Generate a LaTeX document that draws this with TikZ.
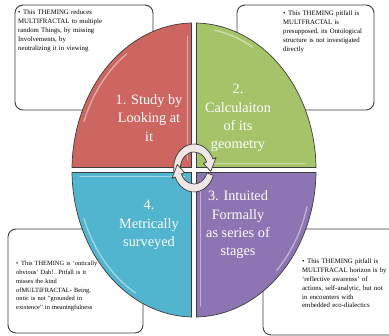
\documentclass[tikz,border=0pt]{standalone}
\usepackage{fontspec}
\setmainfont{Liberation Serif}
\definecolor{edgegray}{HTML}{3C3C3C}
\definecolor{redq}{HTML}{CD6660}
\definecolor{greenq}{HTML}{A5C46A}
\definecolor{blueq}{HTML}{52B5CF}
\definecolor{purpleq}{HTML}{8D74B2}
\definecolor{turnfill}{HTML}{EFE6E6}
\tikzset{
  note/.style={draw=edgegray, fill=white, rounded corners=8pt, line width=0.9pt},
  notetext/.style={anchor=north west, inner sep=0pt, text width=130pt, align=left,
    font=\fontsize{6.8}{8.8}\selectfont},
  quarter/.style={draw=edgegray, line width=0.7pt},
  qtext/.style={text=white, align=center, font=\fontsize{14.3}{18.3}\selectfont},
  gloss/.style={white, opacity=0.45, line width=1.3pt, line cap=round},
  turn/.style={fill=turnfill, draw=edgegray, line width=0.7pt, line join=round}
}
\newcommand{\bul}{\hangindent=5pt\hangafter=1\makebox[5pt][l]{\textbullet}}
\begin{document}
\begin{tikzpicture}[x=1pt, y=1pt]
  \useasboundingbox (0,0) rectangle (389,336);
  % callout boxes
  \draw[note] (15,226) rectangle (153,331);
  \draw[note] (237,226) rectangle (374,331);
  \draw[note] (8,3) rectangle (143,107);
  \draw[note] (263,1) rectangle (400,107);
  \node[notetext] (tltext) at (18,326) {\bul This THEMING reduces\\ MULTIFRACTAL to multiple\\ random Things, by missing\\ Involvements, by\\ neutralizing it in viewing};
  \node[notetext] (trtext) at (283,325) {\bul This THEMING pitfall is\\ MULTFRACTAL is\\ presupposed, its Ontological\\ structure is not investigated\\ directly};
  \node[notetext, font=\fontsize{6.4}{8.8}\selectfont] (bltext) at (16,75) {\bul This THEMING is `ontically\\ obvious' Dah!. Pitfall is it\\ misses the kind\\ ofMULTIFRACTAL- Being,\\ ontic is not "grounded in\\ existence" in meaningfulness};
  \node[notetext] (brtext) at (302,77) {\bul This THEMING pitfall is\\ MULTFRACAL horizon is by\\ `reflective awarenss' of\\ actions, self-analytic, but not\\ in encounters with\\ embedded eco-dialectics};
  % four quarters of the oval
  \draw[quarter, fill=redq] (191.5,168.5) -- (191.5,313) arc[start angle=91.17, end angle=179.03, x radius=122, y radius=147] -- cycle;
  \draw[quarter, fill=greenq] (196.5,168.5) -- (316,168.5) arc[start angle=0.97, end angle=88.83, x radius=122, y radius=147] -- cycle;
  \draw[quarter, fill=blueq] (191.5,163.5) -- (72,163.5) arc[start angle=180.97, end angle=268.83, x radius=122, y radius=147] -- cycle;
  \draw[quarter, fill=purpleq] (196.5,163.5) -- (196.5,19) arc[start angle=271.17, end angle=359.03, x radius=122, y radius=147] -- cycle;
  % gloss
  \draw[gloss] (187.5,176) -- (187.5,300);
  \draw[gloss] (194,166) ++(125:117 and 142) arc[start angle=125, end angle=160, x radius=117, y radius=142];
  \draw[gloss] (205,172.5) -- (305,172.5);
  \draw[gloss] (194,166) ++(60:117 and 142) arc[start angle=60, end angle=80, x radius=117, y radius=142];
  \draw[gloss] (80,159.5) -- (185,159.5);
  \draw[gloss] (194,166) ++(200:117 and 142) arc[start angle=200, end angle=240, x radius=117, y radius=142];
  \draw[gloss] (200.5,155) -- (200.5,30);
  \draw[gloss] (194,166) ++(-15:117 and 142) arc[start angle=-15, end angle=-45, x radius=117, y radius=142];
  % labels
  \node[qtext] (study) at (149,218) {1. Study by\\ Looking at\\ it};
  \node[qtext] (calc) at (238,218) {2.\\ Calculaiton\\ of its\\ geometry};
  \node[qtext] (intuit) at (238,111) {3. Intuited\\ Formally\\ as series of\\ stages};
  \node[qtext] (metric) at (149,111) {4.\\ Metrically\\ surveyed};
  % circular arrows
  \begin{scope}[shift={(194,168)}, xscale=0.85]
    \draw[turn] (198:24) arc[start angle=198, end angle=22, radius=24] -- (22:28) -- (-10:20) -- (22:12) -- (22:16) arc[start angle=22, end angle=198, radius=16] -- cycle;
    \draw[turn] (-18:24) arc[start angle=-18, end angle=-158, radius=24] -- (-158:28) -- (-190:20) -- (-158:12) -- (-158:16) arc[start angle=-158, end angle=-18, radius=16] -- cycle;
  \end{scope}
\end{tikzpicture}
\end{document}
